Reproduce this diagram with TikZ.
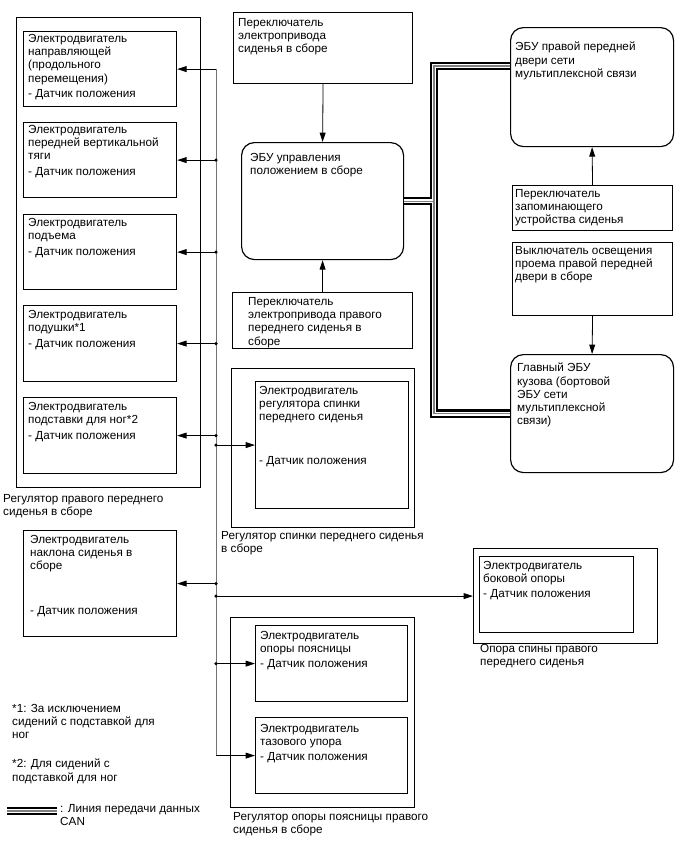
\documentclass[tikz,border=0pt]{standalone}
\usepackage{fontspec}
\setmainfont{Liberation Sans}
\usetikzlibrary{arrows.meta,calc}

\begin{document}
\begin{tikzpicture}[x=0.03cm,y=-0.03cm,font=\fontsize{10}{11.3}\selectfont,
  box/.style 2 args={draw,line width=1pt,anchor=north west,inner sep=0pt,
    minimum width=#1*0.03cm,minimum height=#2*0.03cm},
  ecu/.style 2 args={box={#1}{#2},rounded corners=11pt},
  txt/.style={anchor=north west,align=left,inner sep=0pt},
  bus/.style={black!55,line width=.7pt},
  sig/.style={-{Triangle[length=8pt,width=5pt]},line width=.7pt},
  dot/.style={circle,fill,inner sep=0pt,minimum size=3pt},
  can/.style={draw=black!50,line width=.9pt,
    preaction={draw=black,line width=7.4pt},
    preaction={draw=white,line width=3.4pt}}]
  \useasboundingbox (0,0) rectangle (690,854);

  % seat adjuster
  \node[box={184}{470}] (seat) at (16,17) {};
  \node[box={153}{75}] (m1) at (23,31) {};
  \node[box={153}{75}] (m2) at (23,122) {};
  \node[box={153}{75}] (m3) at (23,214) {};
  \node[box={153}{76}] (m4) at (23,305) {};
  \node[box={153}{76}] (m5) at (23,397) {};
  \node[txt] (m1t) at ([shift={(5,3)}]m1.north west) {Электродвигатель\\направляющей\\(продольного\\перемещения)\\[2pt]- Датчик положения};
  \node[txt] (m2t) at ([shift={(5,3)}]m2.north west) {Электродвигатель\\передней вертикальной\\тяги\\[2pt]- Датчик положения};
  \node[txt] (m3t) at ([shift={(5,4)}]m3.north west) {Электродвигатель\\подъема\\[2pt]- Датчик положения};
  \node[txt] (m4t) at ([shift={(5,5)}]m4.north west) {Электродвигатель\\подушки*1\\[2pt]- Датчик положения};
  \node[txt] (m5t) at ([shift={(5,5)}]m5.north west) {Электродвигатель\\подставки для ног*2\\[2pt]- Датчик положения};
  \node[txt] (seatl) at (3,494) {Регулятор правого переднего\\сиденья в сборе};

  % switches and ECUs
  \node[box={179}{71}] (tsw) at (233,12) {};
  \node[txt] (tswt) at ([shift={(5,6)}]tsw.north west) {Переключатель\\электропривода\\сиденья в сборе};
  \node[ecu={162}{117}] (pos) at (241,142) {};
  \node[txt] (post) at ([shift={(9,11)}]pos.north west) {ЭБУ управления\\положением в сборе};
  \node[box={180}{56}] (bsw) at (232,292) {};
  \node[txt] (bswt) at ([shift={(16,5)}]bsw.north west) {Переключатель\\электропривода правого\\переднего сиденья в\\сборе};
  \node[ecu={163}{119}] (door) at (510,27) {};
  \node[txt] (doort) at ([shift={(5,15)}]door.north west) {ЭБУ правой передней\\двери сети\\мультиплексной связи};
  \node[box={160}{45}] (mem) at (512,185) {};
  \node[txt] (memt) at ([shift={(3,4)}]mem.north west) {Переключатель\\запоминающего\\устройства сиденья};
  \node[box={160}{73}] (light) at (512,242) {};
  \node[txt] (lightt) at ([shift={(3,4)}]light.north west) {Выключатель освещения\\проема правой передней\\двери в сборе};
  \node[ecu={163}{118}] (body) at (510,354) {};
  \node[txt] (bodyt) at ([shift={(7,9)}]body.north west) {Главный ЭБУ\\кузова (бортовой\\ЭБУ сети\\мультиплексной\\связи)};

  % backrest
  \node[box={183}{159}] (bkreg) at (231,368) {};
  \node[box={153}{127}] (bk) at (255,381) {};
  \node[txt] (bkt) at ([shift={(4,5)}]bk.north west) {Электродвигатель\\регулятора спинки\\переднего сиденья\\[26pt]- Датчик положения};
  \node[txt] (bkl) at (221,531) {Регулятор спинки переднего сиденья\\в сборе};

  % recline
  \node[box={153}{106}] (nakl) at (23,530) {};
  \node[txt] (naklt) at ([shift={(7,5)}]nakl.north west) {Электродвигатель\\наклона сиденья в\\сборе\\[27pt]- Датчик положения};

  % side support
  \node[box={184}{95}] (sidereg) at (473,548) {};
  \node[box={154}{76}] (side) at (479,556) {};
  \node[txt] (sidet) at ([shift={(4,5)}]side.north west) {Электродвигатель\\боковой опоры\\[1pt]- Датчик положения};
  \node[txt] (sidel) at (480,644) {Опора спины правого\\переднего сиденья};

  % lumbar
  \node[box={184}{190}] (lumbreg) at (230,617) {};
  \node[box={152}{76}] (lb1) at (255,625) {};
  \node[box={152}{76}] (lb2) at (255,717) {};
  \node[txt] (lb1t) at ([shift={(5,6)}]lb1.north west) {Электродвигатель\\опоры поясницы\\[1pt]- Датчик положения};
  \node[txt] (lb2t) at ([shift={(5,7)}]lb2.north west) {Электродвигатель\\тазового упора\\[1pt]- Датчик положения};
  \node[txt] (lumbl) at (233,812) {Регулятор опоры поясницы правого\\сиденья в сборе};

  % notes
  \node[txt] (fn1) at (12,704) {*1: За исключением\\сидений с подставкой для\\ног};
  \node[txt] (fn2) at (12,759) {*2: Для сидений с\\подставкой для ног};
  \coordinate (lga) at (7,811);
  \coordinate (lgb) at (57,811);
  \draw[can] (lga) -- (lgb);
  \node[txt] (lgt) at (60,804) {: Линия передачи данных\\CAN};

  % switch arrows
  \draw[sig] (tsw.south) -- (pos.north);
  \draw[sig] (bsw.north) -- (pos.south);
  \draw[sig] (mem.north) -- (door.south);
  \draw[sig] (light.south) -- (body.north);

  % CAN
  \coordinate (canx) at (434,0);
  \coordinate (doorin) at ($(door.north west)+(0,39)$);
  \draw[can] (pos.east) -- (pos.east -| canx) (doorin) -| (pos.east -| canx) |- (body.west);

  % motor bus
  \coordinate (busx) at (216,0);
  \draw[bus] (m1.east -| busx) -- (lb2.west -| busx);
  \draw[sig] (m1.east -| busx) -- (m1.east);
  \foreach \n in {m2,m3,m4,m5,nakl}{\draw[sig] (\n.east -| busx) node[dot]{} -- (\n.east);}
  \foreach \n in {bk,sidereg,lb1}{\draw[sig] (\n.west -| busx) node[dot]{} -- (\n.west);}
  \draw[sig] (lb2.west -| busx) -- (lb2.west);
\end{tikzpicture}
\end{document}
